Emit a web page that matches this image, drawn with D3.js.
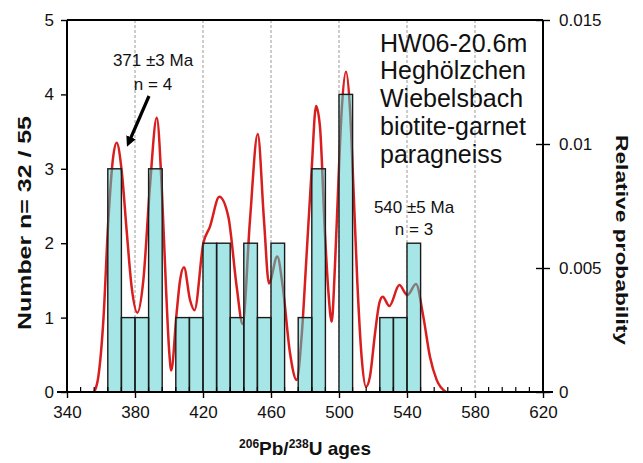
<!DOCTYPE html>
<html>
<head>
<meta charset="utf-8">
<script src="https://cdn.jsdelivr.net/npm/d3@7"></script>
<style>
  body { margin: 0; background: #fff; }
  svg text { font-family: "Liberation Sans", Arial, sans-serif; fill: #111; }
</style>
</head>
<body>
<div id="container"></div>
<script>
// histogram bins (8 Ma wide) and counts
const binStarts = [364, 372, 380, 388, 396, 404, 412, 420, 428, 436, 444, 452,
                   460, 468, 476, 484, 492, 500, 508, 516, 524, 532, 540];
const counts    = [3, 1, 1, 3, 0, 1, 1, 2, 2, 1, 2, 1,
                   2, 0, 1, 3, 0, 4, 0, 0, 1, 1, 2];
const binWidth = 8;

// relative probability curve
const curveAges = [340, 350, 356, 358.4, 361.4, 364.3, 367.2, 369.2, 372.2, 375.1, 378, 381.4,
                   384.9, 388.8, 392.8, 395.7, 398.2, 400.2, 401.3, 404.5, 406.5, 408.8, 412.4, 415,
                   420.2, 424.1, 429.6, 434.9, 439.8, 443.3, 447.6, 452.2, 455.9, 458.8, 463.7, 466.9,
                   471.2, 475.1, 478, 481, 483.9, 486.5, 488.8, 491.8, 493.7, 495.7, 497.6, 499.6,
                   501.6, 504.1, 506.5, 508.4, 510.8, 513.3, 515.9, 518.2, 521.2, 523.7, 525.7, 529.6,
                   535.5, 540.2, 545.3, 549.6, 553.5, 557.5, 563, 570, 620];
const curveProb = [0, 0, 0, 0.0006, 0.0029, 0.0069, 0.0095, 0.01005, 0.0089, 0.0065, 0.00425, 0.0032,
                   0.0045, 0.0083, 0.01106, 0.0083, 0.00425, 0.00156, 0.00087, 0.0032, 0.0045, 0.00503, 0.0037, 0.0033,
                   0.006, 0.00667, 0.00787, 0.00707, 0.00425, 0.00274, 0.0069, 0.0104, 0.0069, 0.00438, 0.00546, 0.00425,
                   0.00156, 0.00048, 0.00223, 0.0056, 0.00895, 0.01153, 0.0107, 0.0063, 0.0041, 0.00283, 0.00505, 0.0084,
                   0.01137, 0.01291, 0.01137, 0.0084, 0.0044, 0.00142, 0.00021, 0.00062, 0.00237, 0.00358, 0.00384, 0.00347,
                   0.00431, 0.00391, 0.00435, 0.00304, 0.00142, 0.00048, 0, 0, 0];

const xTicks = [340, 380, 420, 460, 500, 540, 580, 620];
const yTicksLeft = [0, 1, 2, 3, 4, 5];
const yTicksRight = [0, 0.005, 0.01, 0.015];
const gridAges = [380, 420, 460, 500, 540, 580];
const titleLines = ["HW06-20.6m", "Heghölzchen", "Wiebelsbach", "biotite-garnet", "paragneiss"];

const WIDTH = 643, HEIGHT = 463;
const margin = { top: 20, bottom: 71, left: 67, right: 100 };
const width = WIDTH - margin.left - margin.right,
      height = HEIGHT - margin.top - margin.bottom;

const svg = d3.select('#container').append('svg')
    .attr("width", WIDTH).attr("height", HEIGHT);

const defs = svg.append("defs");
defs.append("marker")
    .attr("id", "arrow")
    .attr("viewBox", "0 0 10 10")
    .attr("refX", 5).attr("refY", 5)
    .attr("markerWidth", 3.2).attr("markerHeight", 3.2)
    .attr("orient", "auto")
    .append("path").attr("d", "M0,0 L10,5 L0,10 z").attr("fill", "#000");

const xScale = d3.scaleLinear().domain([340, 620]).range([0, width]);
const yScale = d3.scaleLinear().domain([0, 5]).range([height, 0]);
const pScale = d3.scaleLinear().domain([0, 0.015]).range([height, 0]);

const g = svg.append("g").attr("transform", `translate(${margin.left},${margin.top})`);

// dashed grid
g.selectAll(".grid").data(gridAges).join("line")
    .attr("x1", d => xScale(d)).attr("x2", d => xScale(d))
    .attr("y1", 0).attr("y2", height)
    .attr("stroke", "#9a9a9a").attr("stroke-width", 1)
    .attr("stroke-dasharray", "3,2");

const bins = binStarts.map((s, i) => ({ start: s, count: counts[i] })).filter(d => d.count > 0);

const line = d3.line()
    .x((d, i) => xScale(curveAges[i]))
    .y(d => pScale(d))
    .curve(d3.curveMonotoneX);

// red probability curve (only where it leaves the baseline)
const shown = curveProb.map((p, i) => i >= 2 && i <= curveProb.length - 3);
const lineShown = line.defined((d, i) => shown[i]);
g.append("path").attr("d", lineShown(curveProb))
    .attr("fill", "none").attr("stroke", "#d81e1e").attr("stroke-width", 2.5);

// bars
g.selectAll(".bar").data(bins).join("rect")
    .attr("x", d => xScale(d.start))
    .attr("y", d => yScale(d.count))
    .attr("width", d => xScale(d.start + binWidth) - xScale(d.start))
    .attr("height", d => height - yScale(d.count))
    .attr("fill", "#a6e6e6");

// curve seen through the bars (grey)
const clip = defs.append("clipPath").attr("id", "barclip");
clip.selectAll("rect").data(bins).join("rect")
    .attr("x", d => xScale(d.start))
    .attr("y", d => yScale(d.count))
    .attr("width", d => xScale(d.start + binWidth) - xScale(d.start))
    .attr("height", d => height - yScale(d.count) - 2);
g.append("path").attr("d", lineShown(curveProb))
    .attr("clip-path", "url(#barclip)")
    .attr("fill", "none").attr("stroke", "#857c7c").attr("stroke-width", 2.5);

g.selectAll(".barOutline").data(bins).join("rect")
    .attr("x", d => xScale(d.start))
    .attr("y", d => yScale(d.count))
    .attr("width", d => xScale(d.start + binWidth) - xScale(d.start))
    .attr("height", d => height - yScale(d.count))
    .attr("fill", "none").attr("stroke", "#1a1a1a").attr("stroke-width", 1.4);

// frame
g.append("line").attr("x1", 0).attr("x2", width).attr("y1", 0).attr("y2", 0)
    .attr("stroke", "#000").attr("stroke-width", 2);

// x axis: major ticks every 40, minor every 8
const xMinor = d3.range(348, 620, 8).filter(v => (v - 340) % 40 !== 0);
g.selectAll(".xminor").data(xMinor).join("line")
    .attr("x1", d => xScale(d)).attr("x2", d => xScale(d))
    .attr("y1", height).attr("y2", height - 5)
    .attr("stroke", "#000").attr("stroke-width", 1.2);
const xAxis = d3.axisBottom(xScale).tickValues(xTicks).tickSize(6).tickPadding(8);
const gx = g.append("g").attr("transform", `translate(0,${height})`).call(xAxis);
gx.select(".domain").attr("stroke-width", 2).attr("d", `M-10,0H${width + 10}`);
gx.selectAll(".tick line").attr("stroke-width", 1.4);
gx.selectAll("text").attr("font-size", 17).attr("fill", "#111");

const yAxis = d3.axisLeft(yScale).tickValues(yTicksLeft).tickFormat(d3.format("d"))
    .tickSize(6).tickPadding(7);
const gy = g.append("g").call(yAxis);
gy.select(".domain").attr("stroke-width", 2).attr("d", `M0,0V${height}`);
gy.selectAll(".tick line").attr("stroke-width", 1.4);
gy.selectAll("text").attr("font-size", 17).attr("fill", "#111");

const pAxis = d3.axisRight(pScale).tickValues(yTicksRight).tickSize(7).tickPadding(9)
    .tickFormat(d => d === 0 ? "0" : String(+d.toFixed(3)));
const gp = g.append("g").attr("transform", `translate(${width},0)`).call(pAxis);
gp.select(".domain").attr("stroke-width", 2).attr("d", `M0,0V${height}`);
gp.selectAll(".tick line").attr("x1", -7).attr("stroke-width", 1.4);
gp.selectAll("text").attr("font-size", 17).attr("fill", "#111");

// axis titles
svg.append("text")
    .attr("transform", "translate(31,223) rotate(-90)")
    .attr("text-anchor", "middle")
    .attr("font-size", 18).attr("font-weight", "bold")
    .attr("textLength", 214).attr("lengthAdjust", "spacingAndGlyphs")
    .text("Number  n= 32 / 55");

svg.append("text")
    .attr("transform", "translate(616,240) rotate(90)")
    .attr("text-anchor", "middle")
    .attr("font-size", 16).attr("font-weight", "bold")
    .attr("textLength", 210).attr("lengthAdjust", "spacingAndGlyphs")
    .text("Relative probability");

const xt = svg.append("text")
    .attr("x", 305).attr("y", 455)
    .attr("text-anchor", "middle")
    .attr("font-size", 19).attr("font-weight", "bold");
xt.append("tspan").attr("font-size", 12).attr("dy", -7).text("206");
xt.append("tspan").attr("dy", 7).text("Pb/");
xt.append("tspan").attr("font-size", 12).attr("dy", -7).text("238");
xt.append("tspan").attr("dy", 7).text("U ages");

// sample label
svg.append("g").selectAll("text").data(titleLines).join("text")
    .attr("x", 380).attr("y", (d, i) => 51.7 + i * 27.75)
    .attr("font-size", 25)
    .text(d => d);

// age annotations
svg.append("text").attr("x", 153).attr("y", 66).attr("text-anchor", "middle")
    .attr("font-size", 17).text("371 ±3 Ma");
svg.append("text").attr("x", 153).attr("y", 90).attr("text-anchor", "middle")
    .attr("font-size", 17).text("n = 4");
svg.append("line")
    .attr("x1", 149).attr("y1", 96).attr("x2", 129).attr("y2", 142)
    .attr("stroke", "#000").attr("stroke-width", 3.2)
    .attr("marker-end", "url(#arrow)");

svg.append("text").attr("x", 414).attr("y", 213).attr("text-anchor", "middle")
    .attr("font-size", 17).text("540 ±5 Ma");
svg.append("text").attr("x", 414).attr("y", 235).attr("text-anchor", "middle")
    .attr("font-size", 17).text("n = 3");
</script>
</body>
</html>
